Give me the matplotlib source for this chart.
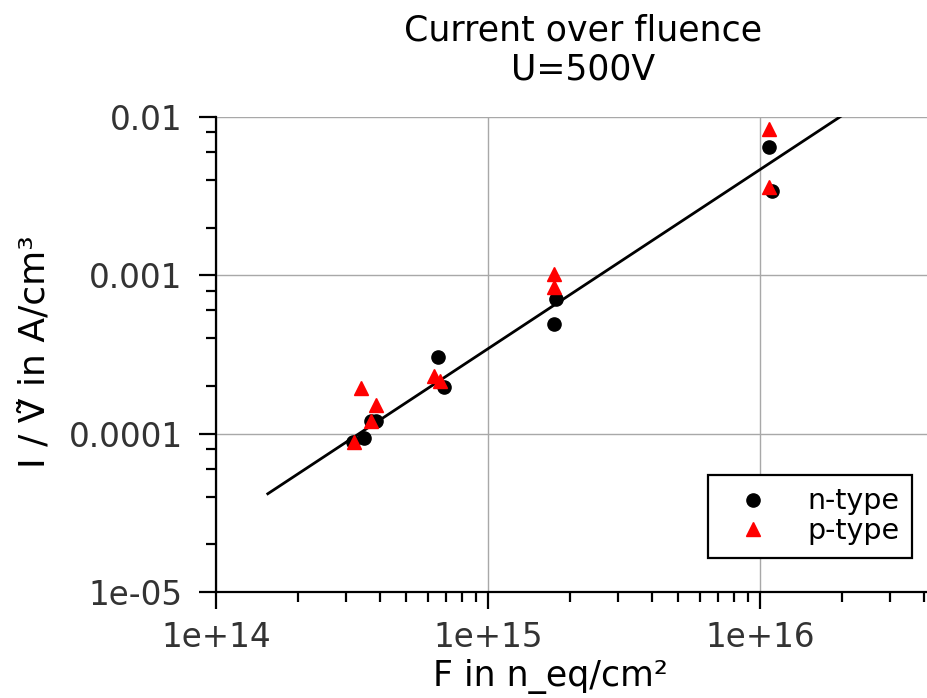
import numpy as np
import matplotlib
matplotlib.use("Agg")
import matplotlib.pyplot as plt
from matplotlib.ticker import LogLocator, NullFormatter

# fluence in n_eq/cm^2, current per volume in A/cm^3
n_fluence = [3.2e14, 3.51e14, 3.7e14, 3.87e14, 6.56e14, 6.89e14, 1.78e15, 1.75e15, 1.08e16, 1.1e16]
n_current = [8.9e-5, 9.4e-5, 1.2e-4, 1.2e-4, 3.03e-4, 1.96e-4, 7.08e-4, 4.94e-4, 6.44e-3, 3.43e-3]

p_fluence = [3.21e14, 3.41e14, 3.7e14, 3.87e14, 6.3e14, 6.66e14, 1.75e15, 1.75e15, 1.08e16, 1.08e16]
p_current = [8.8e-5, 1.94e-4, 1.2e-4, 1.52e-4, 2.33e-4, 2.14e-4, 1.02e-3, 8.4e-4, 8.36e-3, 3.63e-3]

# power law fit: log10(I) = fit_slope * log10(F) + fit_offset
fit_slope = 1.132
fit_offset = -20.443
fit_range = [1.55e14, 3e16]

xticks = [1e14, 1e15, 1e16]
xticklabels = ["1e+14", "1e+15", "1e+16"]
yticks = [1e-5, 1e-4, 1e-3, 1e-2]
yticklabels = ["1e-05", "0.0001", "0.001", "0.01"]

fig = plt.figure(figsize=(9.27, 6.98), dpi=100)
ax = fig.add_axes([216/927, 1-592/698, 1-216/927, (592-117)/698])
ax.set_xscale("log")
ax.set_yscale("log")

F = np.logspace(np.log10(fit_range[0]), np.log10(fit_range[1]), 50)
ax.plot(F, 10**(fit_slope*np.log10(F) + fit_offset), color="black", lw=2, zorder=2)
ax.plot(n_fluence, n_current, "o", color="black", ms=9.5, ls="none", label="n-type", zorder=3)
ax.plot(p_fluence, p_current, "^", color="red", ms=9.5, ls="none", label="p-type", zorder=4)

ax.set_xlim(1e14, 4.1e16)
ax.set_ylim(1e-5, 1e-2)

ax.set_xticks(xticks)
ax.set_xticklabels(xticklabels)
ax.set_yticks(yticks)
ax.set_yticklabels(yticklabels)
ax.xaxis.set_minor_locator(LogLocator(base=10, subs=np.arange(2, 10)))
ax.yaxis.set_minor_locator(LogLocator(base=10, subs=[2, 4, 6, 8]))
ax.xaxis.set_minor_formatter(NullFormatter())
ax.yaxis.set_minor_formatter(NullFormatter())

ax.tick_params(which="major", length=12, width=1.6, labelsize=23.5, labelcolor="#333333", pad=9)
ax.tick_params(which="minor", length=7, width=1.6)
ax.tick_params(axis="y", which="major", pad=12)

for s in ["top", "right"]:
    ax.spines[s].set_visible(False)
for s in ["left", "bottom"]:
    ax.spines[s].set_linewidth(1.6)

ax.grid(True, which="major", color="#a8a8a8", lw=1)

ax.set_title("Current over fluence\nU=500V", fontsize=25, x=0.516, pad=27)
ax.set_xlabel("F in n_eq/cm²", fontsize=25)
ax.xaxis.set_label_coords(0.471, -0.14)
ax.set_ylabel("I / V\u0303 in A/cm³", fontsize=26)
ax.yaxis.set_label_coords(-0.232, 0.505)

leg = ax.legend(loc="lower right", bbox_to_anchor=(0.979, 0.0716), fontsize=20.5,
                frameon=True, fancybox=False, edgecolor="black", framealpha=1,
                handlelength=2.3, handletextpad=0.75, borderpad=0.44, labelspacing=0.07,
                borderaxespad=0)
leg.get_frame().set_linewidth(1.6)

fig.savefig("out.png", dpi=100)
